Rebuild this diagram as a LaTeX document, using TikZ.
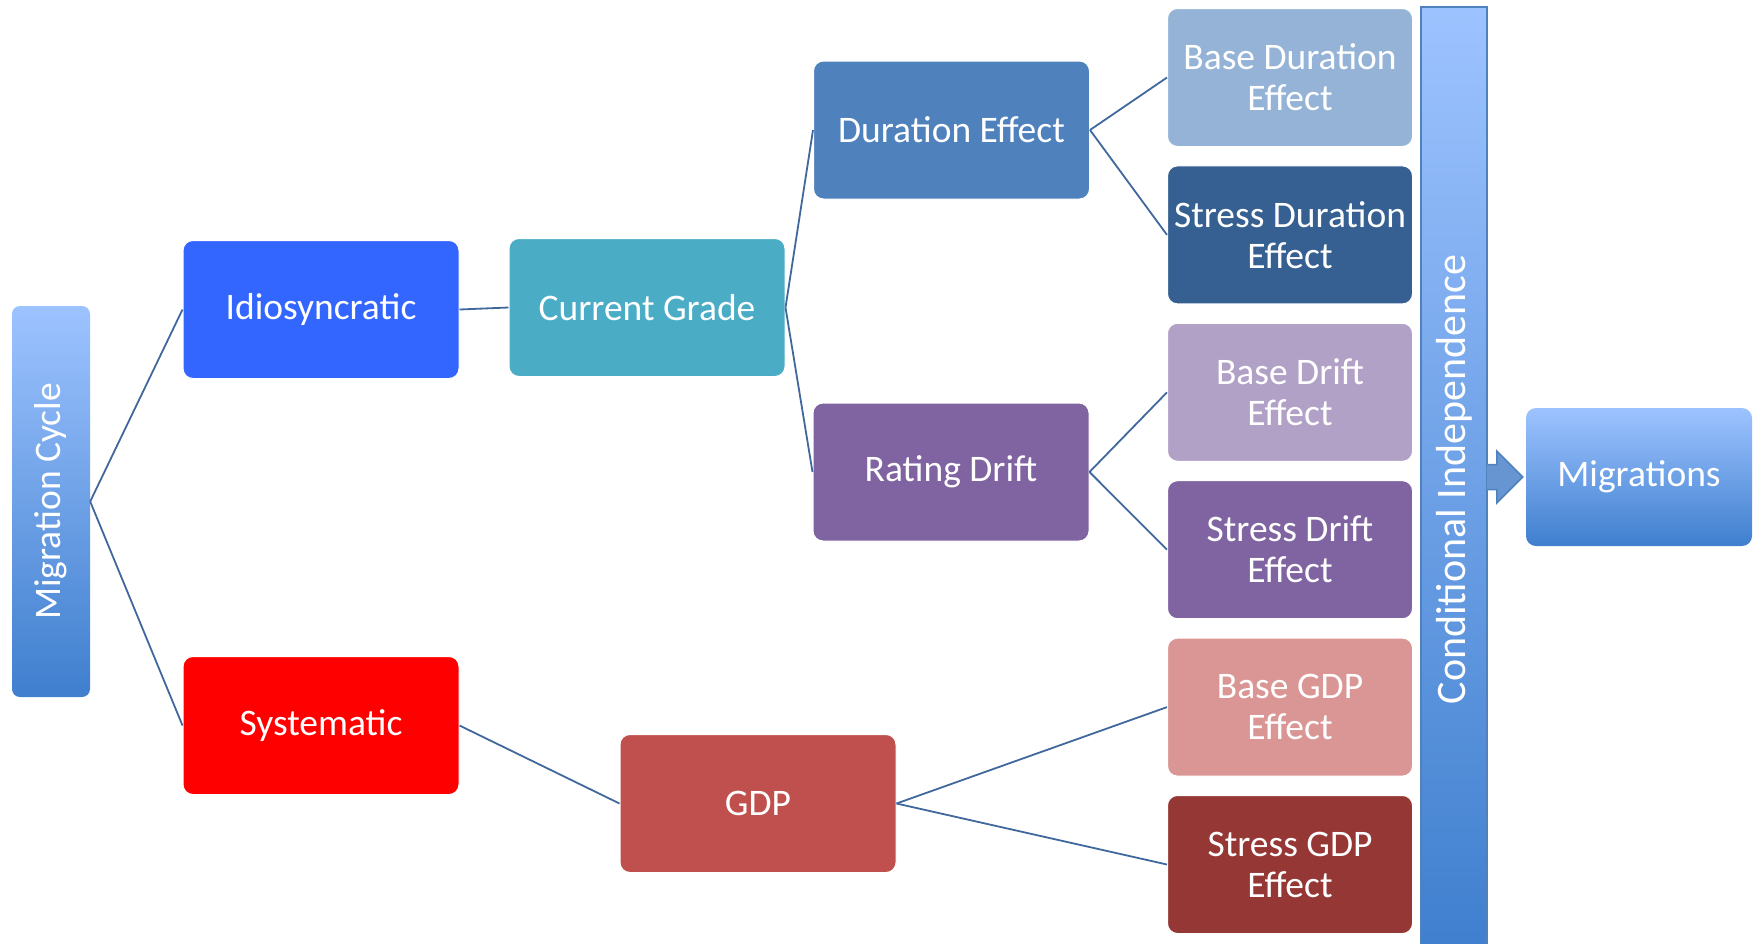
\documentclass[tikz,border=0pt]{standalone}
\usepackage{fontspec}
\setmainfont{Carlito}
\usepackage{graphicx}
\usetikzlibrary{chains, positioning}
\usetikzlibrary{calc}

\definecolor{idiocol}{HTML}{3366FF}
\definecolor{syscol}{HTML}{FF0000}
\definecolor{gradecol}{HTML}{4BACC6}
\definecolor{durcol}{HTML}{4F81BD}
\definecolor{driftcol}{HTML}{8064A2}
\definecolor{gdpcol}{HTML}{C0504D}
\definecolor{bdurcol}{HTML}{95B3D7}
\definecolor{sdurcol}{HTML}{366092}
\definecolor{bdriftcol}{HTML}{B2A1C7}
\definecolor{sdriftcol}{HTML}{8064A2}
\definecolor{bgdpcol}{HTML}{DA9694}
\definecolor{sgdpcol}{HTML}{953735}
\definecolor{lightbar}{HTML}{9DC3FF}
\definecolor{darkbar}{HTML}{3F7FCE}
\definecolor{barline}{HTML}{4F81BD}
\definecolor{linkblue}{HTML}{41689C}

\begin{document}
\begin{tikzpicture}[x=1pt, y=-1pt,
node distance = 18.4pt and 24pt,
start chain = going below,
box/.style = {rounded corners=10pt, fill=#1, draw=white, line width=1pt,
	text=white, minimum width=276pt, minimum height=138pt,
	inner sep=0pt, align=center, font=\fontsize{37.5}{41}\selectfont},
effect/.style = {box=#1, minimum width=245pt, on chain},
bar/.style = {top color=lightbar, bottom color=darkbar, text=white,
	inner sep=0pt, font=\fontsize{37.5}{41}\selectfont},
link/.style = {draw=linkblue, line width=1.8pt}
]
\useasboundingbox (0,0) rectangle (1758,943);
% Draw the left bar
\node[bar, rounded corners=8pt, minimum width=78pt, minimum height=391pt]
	(mc) at (51,501.5) {\rotatebox{90}{Migration Cycle}};
% Draw the middle boxes
\node[box=idiocol] (idio) at (321,309.5) {Idiosyncratic};
\node[box=syscol] (sys) at (321,725.5) {Systematic};
\node[box=gradecol] (cg) at (647,307.5) {Current Grade};
\node[box=durcol] (dur) at (951.5,130) {Duration Effect};
\node[box=driftcol] (drift) at (951,472) {Rating Drift};
\node[box=gdpcol] (gdp) at (758,803.5) {GDP};
% Draw the effect column
\node[effect=bdurcol] (bdur) at (1290,77.5) {Base Duration\\Effect};
\node[effect=sdurcol] (sdur) {Stress Duration\\Effect};
\node[effect=bdriftcol] (bdrift) {Base Drift\\Effect};
\node[effect=sdriftcol] (sdrift) {Stress Drift\\Effect};
\node[effect=bgdpcol] (bgdp) {Base GDP\\Effect};
\node[effect=sgdpcol] (sgdp) {Stress GDP\\Effect};
% Draw the right bar and the output box
\node[bar, draw=barline, line width=1.5pt, minimum width=66pt, minimum height=945pt,
	font=\fontsize{42}{46}\selectfont]
	(ci) at (1454,479.5) {\rotatebox{90}{Conditional Independence}};
\node[bar, rounded corners=10pt, minimum width=226pt, minimum height=138pt]
	(mig) at (1639,477) {Migrations};

% Block arrow from the bar to the output box
\coordinate (a0) at (ci.east |- mig.west);
\fill[barline!70!lightbar] ($(a0)+(-1,-12.5)$) -- ++(10,0) -- ++(0,-13.5)
	-- ($(a0)+(35,0)$) -- ($(a0)+(9,26)$) -- ++(0,-13.5) -- ($(a0)+(-1,12.5)$) -- cycle;
\draw[barline, line width=1.5pt, line join=miter] ($(a0)+(0,-12.5)$) -- ++(9,0) -- ++(0,-13.5)
	-- ($(a0)+(35,0)$) -- ($(a0)+(9,26)$) -- ++(0,-13.5) -- ($(a0)+(0,12.5)$);

% Connect the boxes
\foreach \a/\b in {mc/idio, mc/sys, idio/cg, cg/dur, cg/drift, sys/gdp,
	dur/bdur, dur/sdur, drift/bdrift, drift/sdrift, gdp/bgdp, gdp/sgdp}
	\draw[link] (\a.east) -- (\b.west);
\end{tikzpicture}
\end{document}
